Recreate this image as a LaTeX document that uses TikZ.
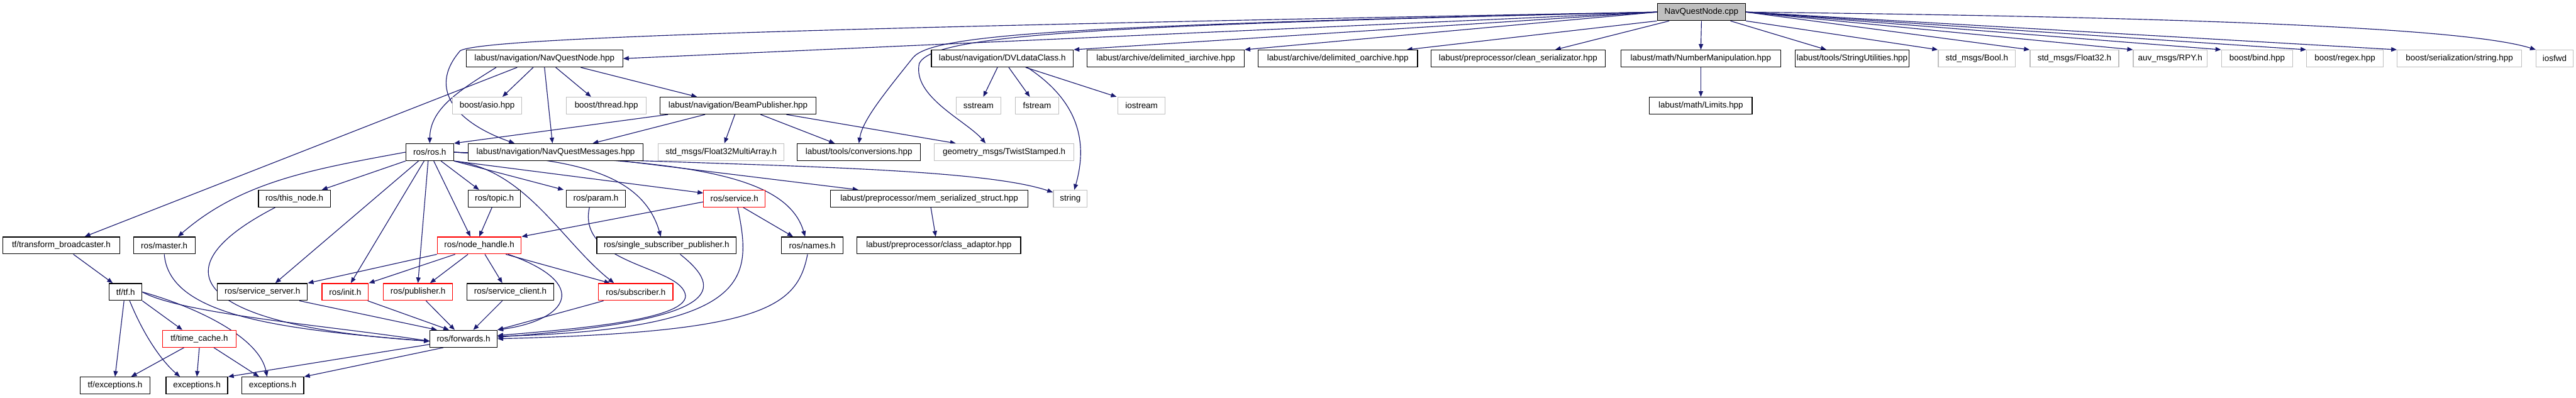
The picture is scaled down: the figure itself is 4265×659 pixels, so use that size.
\documentclass[tikz,border=0pt]{standalone}
\usepackage{fontspec}
\setmainfont{Liberation Sans}
\usetikzlibrary{arrows.meta,backgrounds}

\definecolor{edgeblue}{HTML}{191970}
\definecolor{boxgray}{HTML}{BFBFBF}

\tikzset{
  hdr/.style={draw=black, line width=1pt, fill=white, inner sep=0pt,
    minimum height=21pt, font=\fontsize{10.5}{12}\selectfont},
  sys/.style={hdr, draw=boxgray},
  cut/.style={hdr, draw=red},
  src/.style={hdr, fill=boxgray},
  dep/.style={draw=edgeblue, line width=0.9pt,
    -{Triangle[length=7pt,width=5.5pt]}}
}

\begin{document}
\begin{tikzpicture}[x=0.75pt,y=-0.75pt]
\useasboundingbox (0,0) rectangle (4265,659);

% ===== Row 0 =====
\node[src, minimum width=109.5pt] (root) at (2817,20) {NavQuestNode.cpp};

% ===== Row 1 =====
\node[hdr, minimum width=194.25pt] (nqhpp) at (901.5,97) {labust/navigation/NavQuestNode.hpp};
\node[hdr, minimum width=176.25pt] (dvl) at (1659.5,97) {labust/navigation/DVLdataClass.h};
\node[hdr, minimum width=195pt] (iarch) at (1930,97) {labust/archive/delimited\_iarchive.hpp};
\node[hdr, minimum width=198pt] (oarch) at (2215,97) {labust/archive/delimited\_oarchive.hpp};
\node[hdr, minimum width=216.75pt] (clean) at (2513.5,97) {labust/preprocessor/clean\_serializator.hpp};
\node[hdr, minimum width=198pt] (numman) at (2816,97) {labust/math/NumberManipulation.hpp};
\node[hdr, minimum width=141.75pt] (strutil) at (3066.5,97) {labust/tools/StringUtilities.hpp};
\node[sys, minimum width=96pt] (bool) at (3273,97) {std\_msgs/Bool.h};
\node[sys, minimum width=110.25pt] (f32) at (3434.5,97) {std\_msgs/Float32.h};
\node[sys, minimum width=91.5pt] (rpy) at (3593,97) {auv\_msgs/RPY.h};
\node[sys, minimum width=88.5pt] (bind) at (3737,97) {boost/bind.hpp};
\node[sys, minimum width=95.25pt] (regex) at (3882.5,97) {boost/regex.hpp};
\node[sys, minimum width=154.5pt] (serstr) at (4072,97) {boost/serialization/string.hpp};
\node[sys, minimum width=45.75pt] (iosfwd) at (4229.5,97) {iosfwd};

% ===== Row 2 =====
\node[sys, minimum width=86.25pt] (asio) at (806.5,175) {boost/asio.hpp};
\node[sys, minimum width=99pt] (thread) at (1004,175) {boost/thread.hpp};
\node[hdr, minimum width=193.5pt] (beam) at (1222,175) {labust/navigation/BeamPublisher.hpp};
\node[sys, minimum width=55.5pt] (sstream) at (1620,175) {sstream};
\node[sys, minimum width=54pt] (fstream) at (1717,175) {fstream};
\node[sys, minimum width=58.5pt] (iostream) at (1890,175) {iostream};
\node[hdr, minimum width=127.5pt] (limits) at (2816,175) {labust/math/Limits.hpp};

% ===== Row 3 =====
\node[hdr, minimum width=59.25pt] (ros) at (711.5,252) {ros/ros.h};
\node[hdr, minimum width=217.5pt] (msgs) at (920,252) {labust/navigation/NavQuestMessages.hpp};
\node[sys, minimum width=156pt] (f32ma) at (1194,252) {std\_msgs/Float32MultiArray.h};
\node[hdr, minimum width=153pt] (conv) at (1422,252) {labust/tools/conversions.hpp};
\node[sys, minimum width=173.25pt] (twist) at (1662.5,252) {geometry\_msgs/TwistStamped.h};

% ===== Row 4 =====
\node[hdr, minimum width=89.25pt] (thisnode) at (487.5,329) {ros/this\_node.h};
\node[hdr, minimum width=65.25pt] (topic) at (818.5,329) {ros/topic.h};
\node[hdr, minimum width=73.5pt] (param) at (986.5,329) {ros/param.h};
\node[cut, minimum width=76.5pt] (service) at (1216,329) {ros/service.h};
\node[hdr, minimum width=245.25pt] (memser) at (1538.5,329) {labust/preprocessor/mem\_serialized\_struct.hpp};
\node[sys, minimum width=42pt] (string) at (1772,329) {string};

% ===== Row 5 =====
\node[hdr, minimum width=144.75pt] (tfbc) at (101.5,406.5) {tf/transform\_broadcaster.h};
\node[hdr, minimum width=76.5pt] (master) at (272,406.5) {ros/master.h};
\node[cut, minimum width=104.25pt] (nodeh) at (793.5,406.5) {ros/node\_handle.h};
\node[hdr, minimum width=173.25pt] (ssp) at (1103.5,406.5) {ros/single\_subscriber\_publisher.h};
\node[hdr, minimum width=76.5pt] (names) at (1345,406.5) {ros/names.h};
\node[hdr, minimum width=203.25pt] (clsad) at (1554.5,406.5) {labust/preprocessor/class\_adaptor.hpp};

% ===== Row 6 =====
\node[hdr, minimum width=40.5pt] (tftf) at (208,483.5) {tf/tf.h};
\node[hdr, minimum width=111.75pt] (srvsrv) at (434.5,483.5) {ros/service\_server.h};
\node[cut, minimum width=57.75pt] (init) at (571.5,483.5) {ros/init.h};
\node[cut, minimum width=85.5pt] (pub) at (692,483.5) {ros/publisher.h};
\node[hdr, minimum width=108pt] (srvcl) at (845,483.5) {ros/service\_client.h};
\node[cut, minimum width=92.25pt] (sub) at (1052.5,483.5) {ros/subscriber.h};

% ===== Row 7 =====
\node[cut, minimum width=91.5pt] (tcache) at (330,561) {tf/time\_cache.h};
\node[hdr, minimum width=83.25pt] (fwd) at (767.5,561) {ros/forwards.h};

% ===== Row 8 =====
\node[hdr, minimum width=86.25pt] (tfexc) at (190.5,638.5) {tf/exceptions.h};
\node[hdr, minimum width=76.5pt] (exca) at (326,638.5) {exceptions.h};
\node[hdr, minimum width=77.25pt] (excb) at (451.5,638.5) {exceptions.h};

\begin{scope}[on background layer]
% ===== NavQuestNode.cpp =====
\draw[dep] (root.west) -- (nqhpp.east);
\draw[dep] (root.west) .. controls (1400,45) and (800,62) .. (762,84)
  .. controls (705,150) and (760,205) .. ([xshift=-51pt]msgs.north);
\draw[dep] (root.west) .. controls (1750,42) and (1545,58) .. (1512,95)
  .. controls (1460,160) and (1428,200) .. (conv.north);
\draw[dep] (root.west) .. controls (1800,42) and (1545,58) .. (1522,105)
  .. controls (1510,160) and (1600,200) .. ([xshift=-23pt]twist.north);
\draw[dep] (root.west) -- (dvl.north east);
\draw[dep] (root.west) -- (iarch.north east);
\draw[dep] (root.south west) -- ([xshift=-14pt]oarch.north east);
\draw[dep] ([xshift=-40pt]root.south) -- ([xshift=46pt]clean.north);
\draw[dep] (root.south) -- (numman.north);
\draw[dep] ([xshift=36pt]root.south) -- ([xshift=-32pt]strutil.north);
\draw[dep] (root.south east) -- (bool.north west);
\draw[dep] (root.east) -- (f32.north west);
\draw[dep] (root.east) -- (rpy.north west);
\draw[dep] (root.east) -- (bind.north west);
\draw[dep] (root.east) -- (regex.north west);
\draw[dep] (root.east) -- (serstr.north west);
\draw[dep] (root.east) .. controls (3600,28) and (4080,45) .. (iosfwd.north west);

% ===== NavQuestNode.hpp =====
\draw[dep] ([xshift=-34pt]nqhpp.south) -- ([xshift=29pt]tfbc.north);
\draw[dep] ([xshift=-60pt]nqhpp.south) .. controls (760,150) and (712,180) .. (ros.north);
\draw[dep] ([xshift=-14pt]nqhpp.south) -- ([xshift=19pt]asio.north);
\draw[dep] (nqhpp.south) -- ([xshift=-4pt]msgs.north);
\draw[dep] ([xshift=14pt]nqhpp.south) -- ([xshift=-19pt]thread.north);
\draw[dep] ([xshift=45pt]nqhpp.south) -- ([xshift=-51pt]beam.north);

% ===== BeamPublisher.hpp =====
\draw[dep] ([xshift=-87pt]beam.south) -- (ros.north east);
\draw[dep] ([xshift=-41pt]beam.south) -- ([xshift=46pt]msgs.north);
\draw[dep] ([xshift=-4pt]beam.south) -- ([xshift=4pt]f32ma.north);
\draw[dep] ([xshift=28pt]beam.south) -- ([xshift=-30pt]conv.north);
\draw[dep] ([xshift=60pt]beam.south) -- ([xshift=-60pt]twist.north);

% ===== DVLdataClass.h =====
\draw[dep] ([xshift=-6pt]dvl.south) -- ([xshift=6pt]sstream.north);
\draw[dep] ([xshift=8pt]dvl.south) -- ([xshift=-9pt]fstream.north);
\draw[dep] ([xshift=29pt]dvl.south) -- ([xshift=-31pt]iostream.north);
\draw[dep] ([xshift=31pt]dvl.south) .. controls (1790,170) and (1800,240) .. ([xshift=5pt]string.north);
\draw[dep] (numman.south) -- (limits.north);

% ===== ros/ros.h =====
\draw[dep] (ros.south west) -- ([xshift=34pt]thisnode.north);
\draw[dep] (ros.west) .. controls (520,280) and (400,300) .. ([xshift=17pt]master.north);
\draw[dep] ([xshift=-14pt]ros.south) -- ([xshift=16pt]srvsrv.north);
\draw[dep] ([xshift=-7pt]ros.south) -- ([xshift=7pt]init.north);
\draw[dep] ([xshift=-2pt]ros.south) -- (pub.north);
\draw[dep] ([xshift=5pt]ros.south) -- ([xshift=-11pt]nodeh.north);
\draw[dep] ([xshift=14pt]ros.south) -- ([xshift=-19pt]topic.north);
\draw[dep] (ros.south east) -- ([xshift=-40pt]param.north);
\draw[dep] (ros.south east) -- ([yshift=7pt]service.west);
\draw[dep] (ros.south east) .. controls (870,280) and (930,400) .. ([xshift=-27pt]sub.north);
\draw[dep] (ros.east) .. controls (920,262) and (1060,275) .. ([xshift=-7pt]ssp.north);
\draw[dep] (ros.east) .. controls (1100,265) and (1300,280) .. ([xshift=-9pt]names.north);
\draw[dep] (ros.east) .. controls (1100,275) and (1600,270) .. (string.160);
\draw[dep] ([xshift=84pt]msgs.south) -- ([xshift=-88pt]memser.north);
\draw[dep] ([xshift=2pt]memser.south) -- ([xshift=-4pt]clsad.north);

% ===== ros/node_handle.h and ros/service.h =====
\draw[dep] ([xshift=-3pt]topic.south) -- (nodeh.north);
\draw[dep] ([yshift=-4pt]service.west) -- (nodeh.north east);
\draw[dep] ([xshift=11pt]service.south) -- ([xshift=-24pt]names.north);
\draw[dep] ([xshift=4pt]service.south) .. controls (1245,460) and (1250,545) .. ([yshift=3pt]fwd.east);
\draw[dep] (nodeh.south west) -- (srvsrv.north east);
\draw[dep] ([xshift=-30pt]nodeh.south) -- (init.north east);
\draw[dep] ([xshift=-14pt]nodeh.south) -- ([xshift=15pt]pub.north);
\draw[dep] ([xshift=7pt]nodeh.south) -- ([xshift=-10pt]srvcl.north);
\draw[dep] ([xshift=33pt]nodeh.south) -- ([xshift=-32pt]sub.north);
\draw[dep] ([xshift=36pt]nodeh.south) .. controls (980,470) and (940,530) .. (fwd.north east);

% ===== ros/forwards.h =====
\draw[dep] ([xshift=-8pt]param.south) .. controls (955,440) and (1130,440) .. (1135,490)
  .. controls (1135,530) and (950,545) .. ([yshift=4pt]fwd.east);
\draw[dep] ([xshift=17pt]ssp.south) .. controls (1200,480) and (1200,530) .. ([yshift=2pt]fwd.east);
\draw[dep] ([xshift=-6pt]names.south) .. controls (1320,510) and (1260,550) .. (fwd.east);
\draw[dep] ([xshift=-24pt]thisnode.south) .. controls (250,450) and (330,540) .. ([yshift=-3pt]fwd.west);
\draw[dep] (master.south) .. controls (280,520) and (450,545) .. ([yshift=-3pt]fwd.west);
\draw[dep] (tftf.east) .. controls (300,520) and (550,540) .. ([yshift=-3pt]fwd.west);
\draw[dep] ([xshift=46pt]srvsrv.south) -- ([xshift=-33pt]fwd.north);
\draw[dep] ([xshift=28pt]init.south) -- ([xshift=-18pt]fwd.north);
\draw[dep] ([xshift=10pt]pub.south) -- ([xshift=-11pt]fwd.north);
\draw[dep] ([xshift=-10pt]srvcl.south) -- ([xshift=12pt]fwd.north);
\draw[dep] ([xshift=-40pt]sub.south) -- (fwd.north east);

% ===== tf =====
\draw[dep] ([xshift=15pt]tfbc.south) -- ([xshift=-16pt]tftf.north);
\draw[dep] ([xshift=-2pt]tftf.south) -- (tfexc.north);
\draw[dep] ([xshift=5pt]tftf.south) .. controls (240,560) and (270,600) .. ([xshift=-21pt]exca.north);
\draw[dep] (tftf.south east) -- ([xshift=-21pt]tcache.north);
\draw[dep] (tftf.east) .. controls (330,510) and (430,560) .. ([xshift=-7pt]excb.north);
\draw[dep] ([xshift=-19pt]tcache.south) -- ([xshift=20pt]tfexc.north);
\draw[dep] (tcache.south) -- (exca.north);
\draw[dep] ([xshift=18pt]tcache.south) -- ([xshift=-17pt]excb.north);
\draw[dep] ([yshift=-7pt]fwd.west) -- (exca.north east);
\draw[dep] ([xshift=-25pt]fwd.south) -- (excb.north east);
\end{scope}

\end{tikzpicture}
\end{document}
